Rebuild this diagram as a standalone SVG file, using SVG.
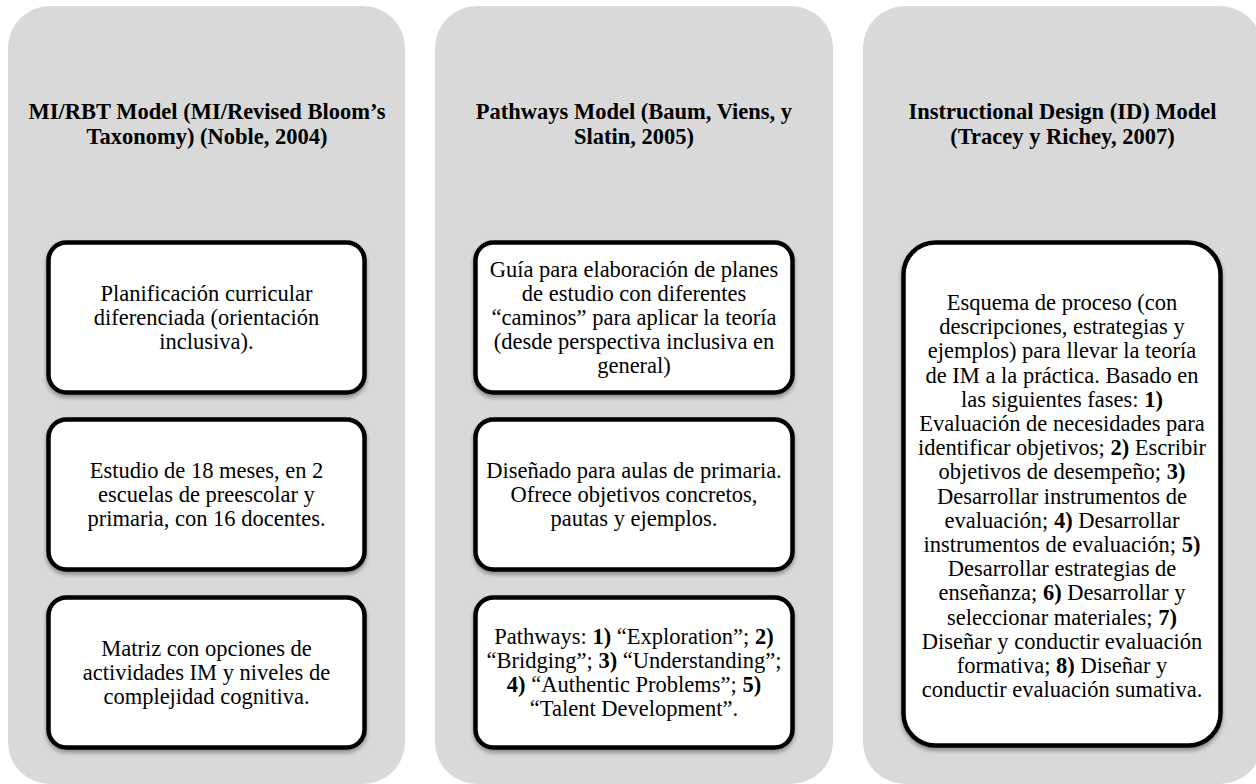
<svg xmlns="http://www.w3.org/2000/svg" width="1256" height="784" viewBox="0 0 1256 784">
<defs>
<filter id="sh" x="-10%" y="-10%" width="120%" height="125%">
<feDropShadow dx="0" dy="3" stdDeviation="2" flood-color="#000" flood-opacity="0.35"/>
</filter>
<style>
.bg{fill:#d9d9d9}
.box{fill:#fff;stroke:#000;stroke-width:4.5;filter:url(#sh)}
text{font-family:"Liberation Serif","Times New Roman",serif;font-size:22.5px;fill:#000;text-anchor:middle}
.hd{font-weight:bold}
.b{font-weight:bold}
</style>
</defs>
<rect width="1256" height="784" fill="#fff"/>
<g id="col1">
<rect class="bg" x="8" y="6" width="397" height="778" rx="42"/>
<text class="hd" x="207" y="119">MI/RBT Model (MI/Revised Bloom’s<tspan x="207" dy="24.5">Taxonomy) (Noble, 2004)</tspan></text>
</g>
<g id="col2">
<rect class="bg" x="435" y="6" width="398" height="778" rx="42"/>
<text class="hd" x="634" y="119">Pathways Model (Baum, Viens, y<tspan x="634" dy="24.5">Slatin, 2005)</tspan></text>
</g>
<g id="col3">
<rect class="bg" x="863" y="6" width="399" height="778" rx="42"/>
<text class="hd" x="1062.5" y="119">Instructional Design (ID) Model<tspan x="1062.5" dy="24.5">(Tracey y Richey, 2007)</tspan></text>
</g>
<g id="n1a">
<rect class="box" x="48.5" y="242.5" width="316" height="150" rx="18"/>
<text x="206.5" y="301">Planificación curricular<tspan x="206.5" dy="24">diferenciada (orientación</tspan><tspan x="206.5" dy="24">inclusiva).</tspan></text>
</g>
<g id="n1b">
<rect class="box" x="48.5" y="419.5" width="316" height="150" rx="18"/>
<text x="206.5" y="478">Estudio de 18 meses, en 2<tspan x="206.5" dy="24">escuelas de preescolar y</tspan><tspan x="206.5" dy="24">primaria, con 16 docentes.</tspan></text>
</g>
<g id="n1c">
<rect class="box" x="48.5" y="597.5" width="316" height="150" rx="18"/>
<text x="206.5" y="656">Matriz con opciones de<tspan x="206.5" dy="24">actividades IM y niveles de</tspan><tspan x="206.5" dy="24">complejidad cognitiva.</tspan></text>
</g>
<g id="n2a">
<rect class="box" x="475.5" y="242.5" width="317" height="150" rx="18"/>
<text x="634" y="277">Guía para elaboración de planes<tspan x="634" dy="24">de estudio con diferentes</tspan><tspan x="634" dy="24">“caminos” para aplicar la teoría</tspan><tspan x="634" dy="24">(desde perspectiva inclusiva en</tspan><tspan x="634" dy="24">general)</tspan></text>
</g>
<g id="n2b">
<rect class="box" x="475.5" y="419.5" width="317" height="150" rx="18"/>
<text x="634" y="478">Diseñado para aulas de primaria.<tspan x="634" dy="24">Ofrece objetivos concretos,</tspan><tspan x="634" dy="24">pautas y ejemplos.</tspan></text>
</g>
<g id="n2c">
<rect class="box" x="475.5" y="597.5" width="317" height="150" rx="18"/>
<text x="634" y="644">Pathways: <tspan class="b">1)</tspan> “Exploration”; <tspan class="b">2)</tspan><tspan x="634" dy="24">“Bridging”; <tspan class="b">3)</tspan> “Understanding”;</tspan><tspan x="634" dy="24"><tspan class="b">4)</tspan> “Authentic Problems”; <tspan class="b">5)</tspan></tspan><tspan x="634" dy="24">“Talent Development”.</tspan></text>
</g>
<g id="n3">
<rect class="box" x="903.5" y="242.5" width="317" height="503" rx="32"/>
<text x="1062" y="310">Esquema de proceso (con<tspan x="1062" dy="24.2">descripciones, estrategias y</tspan><tspan x="1062" dy="24.2">ejemplos) para llevar la teoría</tspan><tspan x="1062" dy="24.2">de IM a la práctica. Basado en</tspan><tspan x="1062" dy="24.2">las siguientes fases: <tspan class="b">1)</tspan></tspan><tspan x="1062" dy="24.2">Evaluación de necesidades para</tspan><tspan x="1062" dy="24.2">identificar objetivos; <tspan class="b">2)</tspan> Escribir</tspan><tspan x="1062" dy="24.2">objetivos de desempeño; <tspan class="b">3)</tspan></tspan><tspan x="1062" dy="24.2">Desarrollar instrumentos de</tspan><tspan x="1062" dy="24.2">evaluación; <tspan class="b">4)</tspan> Desarrollar</tspan><tspan x="1062" dy="24.2">instrumentos de evaluación; <tspan class="b">5)</tspan></tspan><tspan x="1062" dy="24.2">Desarrollar estrategias de</tspan><tspan x="1062" dy="24.2">enseñanza; <tspan class="b">6)</tspan> Desarrollar y</tspan><tspan x="1062" dy="24.2">seleccionar materiales; <tspan class="b">7)</tspan></tspan><tspan x="1062" dy="24.2">Diseñar y conductir evaluación</tspan><tspan x="1062" dy="24.2">formativa; <tspan class="b">8)</tspan> Diseñar y</tspan><tspan x="1062" dy="24.2">conductir evaluación sumativa.</tspan></text>
</g>
<g id="connectors"/>
</svg>
